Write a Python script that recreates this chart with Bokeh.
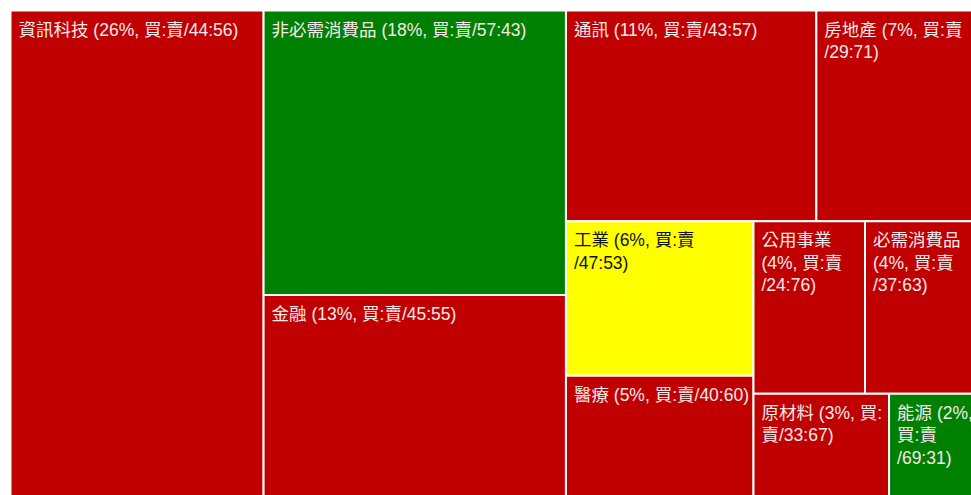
from bokeh.plotting import figure
from bokeh.models import Range1d, ColumnDataSource
from bokeh.core.properties import value
from bokeh.embed import file_html
from bokeh.resources import INLINE

# ---- data ----
sectors = ["資訊科技", "非必需消費品", "金融", "通訊", "房地產", "工業",
           "醫療", "公用事業", "必需消費品", "原材料", "能源"]
weights = [26.2, 18.1, 13.2, 11.1, 7.1, 6.1, 5.0, 4.05, 4.05, 3.1, 2.0]
pct = [26, 18, 13, 11, 7, 6, 5, 4, 4, 3, 2]
buy = [44, 57, 45, 43, 29, 47, 40, 24, 37, 33, 69]
sell = [56, 43, 55, 57, 71, 53, 60, 76, 63, 67, 31]
labels = [
    "資訊科技 (26%, 買:賣/44:56)",
    "非必需消費品 (18%, 買:賣/57:43)",
    "金融 (13%, 買:賣/45:55)",
    "通訊 (11%, 買:賣/43:57)",
    "房地產 (7%, 買:賣\n/29:71)",
    "工業 (6%, 買:賣\n/47:53)",
    "醫療 (5%, 買:賣/40:60)",
    "公用事業\n(4%, 買:賣\n/24:76)",
    "必需消費品\n(4%, 買:賣\n/37:63)",
    "原材料 (3%, 買:\n賣/33:67)",
    "能源 (2%,\n買:賣\n/69:31)",
]

# ---- layout ----
W, H = 966.0, 492.0


def squarify(vals, x, y, w, h):
    rects = []
    vals = list(vals)

    def worst(row, side):
        s = sum(row)
        return max(max(side * side * r / (s * s), s * s / (side * side * r)) for r in row)

    while vals:
        short = min(w, h)
        row = [vals[0]]
        i = 1
        while i < len(vals) and worst(row + [vals[i]], short) <= worst(row, short):
            row.append(vals[i])
            i += 1
        s = sum(row)
        if w >= h:
            cw = s / h
            yy = y
            for r in row:
                rh = r / cw
                rects.append((x, yy, cw, rh))
                yy += rh
            x += cw
            w -= cw
        else:
            rh = s / w
            xx = x
            for r in row:
                rw = r / rh
                rects.append((xx, y, rw, rh))
                xx += rw
            y += rh
            h -= rh
        vals = vals[i:]
    return rects


total = sum(weights)
areas = [v / total * W * H for v in weights]
rects = squarify(areas, 0.0, 0.0, W, H)


def tile_color(b, s):
    if b >= 50:
        return "#008000"
    if b >= 46:
        return "#FFFF00"
    return "#C00000"


colors = [tile_color(b, s) for b, s in zip(buy, sell)]
text_colors = ["#111111" if c == "#FFFF00" else "#f6eaea" for c in colors]

src = ColumnDataSource(dict(
    left=[r[0] for r in rects],
    right=[r[0] + r[2] for r in rects],
    top=[r[1] for r in rects],
    bottom=[r[1] + r[3] for r in rects],
    tx=[r[0] + 8 for r in rects],
    ty=[r[1] + 9 for r in rects],
    color=colors,
    tcolor=text_colors,
    label=labels,
))

p = figure(width=971, height=495, x_range=Range1d(-10, 961), y_range=Range1d(485, -10),
           output_backend="svg", toolbar_location=None, x_axis_type=None, y_axis_type=None,
           min_border=0, outline_line_color=None)
p.grid.visible = False
p.background_fill_color = "white"
p.border_fill_color = "white"

p.quad(left="left", right="right", top="top", bottom="bottom", source=src,
       fill_color="color", line_color="white", line_width=2)
p.text(x="tx", y="ty", text="label", source=src, text_color="tcolor",
       text_font=value("'Liberation Sans', 'Noto Sans CJK TC'"), text_font_size="17.5px",
       text_baseline="top", text_align="left", text_line_height=1.12)

open("out.html", "w").write(file_html(p, INLINE))
